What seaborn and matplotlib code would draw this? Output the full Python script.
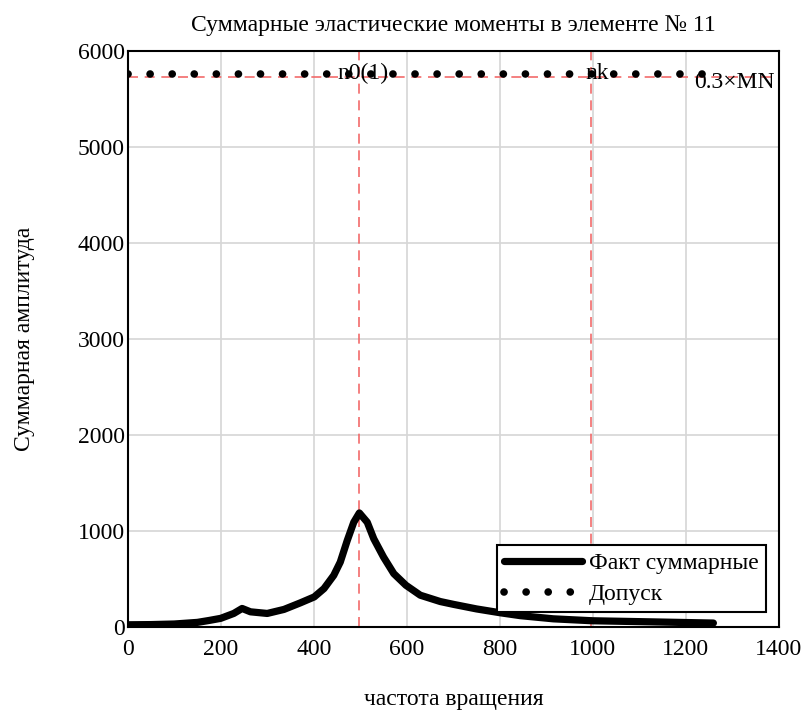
import numpy as np
import pandas as pd
import seaborn as sns
import matplotlib.pyplot as plt

# speed (x) and summed amplitude of the elastic moments (y)
freq = [0, 50, 100, 150, 175, 200, 228, 246, 264, 300, 336, 371, 401, 422,
        443, 457, 472, 486, 498, 515, 529, 550, 572, 598, 629, 672, 701, 750,
        801, 844, 915, 998, 1130, 1259]
ampl = [20, 22, 28, 45, 65, 87, 138, 190, 155, 138, 180, 248, 310, 397,
        535, 673, 898, 1088, 1185, 1088, 916, 725, 553, 432, 328, 262, 232, 185,
        145, 115, 82, 62, 50, 38]

tol_x = [0, 1260]
tol_y = [5760, 5760]

n0_1 = 497
nk = 997
mn03 = 5725

df = pd.DataFrame({"freq": freq, "ampl": ampl})
tol = pd.DataFrame({"freq": tol_x, "ampl": tol_y})

sns.set_theme(style="whitegrid")
plt.rcParams["font.family"] = ["Liberation Serif", "DejaVu Serif"]
plt.rcParams["font.size"] = 17
plt.rcParams["text.color"] = "black"
plt.rcParams["axes.labelcolor"] = "black"
plt.rcParams["xtick.color"] = "black"
plt.rcParams["ytick.color"] = "black"

fig = plt.figure(figsize=(8.09, 7.15), dpi=100)
ax = fig.add_axes([0.1578, 0.1235, 0.8051, 0.8056])

red = "#f26b6b"
ax.axvline(n0_1, color=red, lw=1.2, dashes=(6, 4), zorder=1)
ax.axvline(nk, color=red, lw=1.2, dashes=(6, 4), zorder=1)
ax.axhline(mn03, color=red, lw=1.2, dashes=(6, 4), zorder=1)

sns.lineplot(data=df, x="freq", y="ampl", ax=ax, color="black", lw=5.2,
             label="Факт суммарные", zorder=3)
sns.lineplot(data=tol, x="freq", y="ampl", ax=ax, color="black", lw=5.5,
             linestyle=(0, (0.01, 2.88)), dash_capstyle="round",
             label="Допуск", zorder=3)

ax.set_xlim(0, 1400)
ax.set_ylim(0, 6000)
ax.set_xticks(range(0, 1401, 200))
ax.set_yticks(range(0, 6001, 1000))
ax.grid(True, color="#d6d6d6", lw=1.2)
ax.tick_params(length=0, labelsize=17)
ax.tick_params(axis="x", pad=9)
ax.tick_params(axis="y", pad=2)
for s in ax.spines.values():
    s.set_color("black")
    s.set_linewidth(1.5)

ax.set_title("Суммарные эластические моменты в элементе № 11", fontsize=17, pad=14)
ax.set_xlabel("частота вращения", fontsize=17, labelpad=21)
ax.set_ylabel("Суммарная амплитуда", fontsize=17, labelpad=31)

ax.annotate("n0(1)", (n0_1, 5760), xytext=(3, 0), textcoords="offset points",
            ha="center", va="center", fontsize=17)
ax.annotate("nk", (nk, 5760), xytext=(4, 0), textcoords="offset points",
            ha="center", va="center", fontsize=17)
ax.annotate("0.3×MN", (1400, mn03), xytext=(-3, -4), textcoords="offset points",
            ha="right", va="center", fontsize=17)

leg = ax.legend(loc="lower right", bbox_to_anchor=(0.980, 0.0255),
                borderaxespad=0, fontsize=17, frameon=True, fancybox=False,
                framealpha=1, edgecolor="black", handlelength=3.3,
                handletextpad=0.3, borderpad=0.3, labelspacing=0.4)
leg.get_frame().set_linewidth(1.5)

fig.savefig("out.png", dpi=100)
